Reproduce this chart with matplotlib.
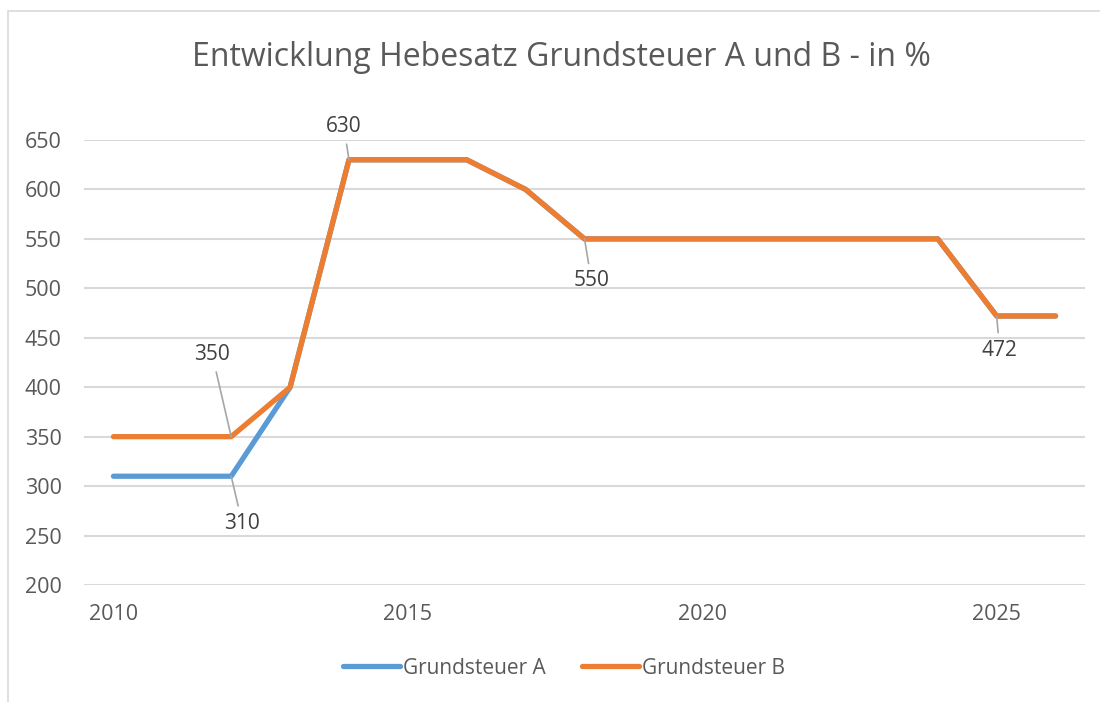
import matplotlib.pyplot as plt
from matplotlib.patches import Rectangle

plt.rcParams["font.family"] = ["Open Sans", "DejaVu Sans"]

# -----------------------------
# Data
# -----------------------------
years = list(range(2010, 2027))
steuer_a = [310, 310, 310, 400, 630, 630, 630, 600, 550, 550, 550, 550, 550, 550, 550, 472, 472]
steuer_b = [350, 350, 350, 400, 630, 630, 630, 600, 550, 550, 550, 550, 550, 550, 550, 472, 472]
y_ticks = [200, 250, 300, 350, 400, 450, 500, 550, 600, 650]
x_ticks = [2010, 2015, 2020, 2025]

# data labels: (series, year, offset in px)
labels = [
    ("B", 2012, (-19, 82)),
    ("A", 2012, (11, -47)),
    ("B", 2014, (-5, 33)),
    ("B", 2018, (7, -42)),
    ("B", 2025, (3, -34)),
]

col_a = "#5B9BD5"
col_b = "#ED7D31"
grey_txt = "#595959"

fig = plt.figure(figsize=(11, 7.02), dpi=100)
ax = fig.add_axes([84/1100, 1 - 585/702, 1001/1100, 445/702])

# chart frame like excel
fig.patches.append(Rectangle((8/1100, -0.05), 1.2, 1 - 11/702 + 0.05,
                             transform=fig.transFigure, fill=False,
                             edgecolor="#d9d9d9", lw=1.2))

ax.plot(years, steuer_a, color=col_a, lw=3.8, solid_capstyle="round",
        solid_joinstyle="round", label="Grundsteuer A", zorder=3)
ax.plot(years, steuer_b, color=col_b, lw=3.8, solid_capstyle="round",
        solid_joinstyle="round", label="Grundsteuer B", zorder=4)

series = {"A": steuer_a, "B": steuer_b}
for s, yr, off in labels:
    v = series[s][years.index(yr)]
    ax.annotate(str(v), xy=(yr, v), xytext=off, textcoords="offset pixels",
                ha="center", va="center", fontsize=15, color="#404040",
                arrowprops=dict(arrowstyle="-", color="#a6a6a6", lw=1.2,
                                shrinkA=3, shrinkB=0), zorder=5)

ax.set_xlim(2009.5, 2026.5)
ax.set_ylim(200, 650)
ax.set_yticks(y_ticks)
ax.set_xticks(x_ticks)
ax.set_xticklabels([str(x) for x in x_ticks])
ax.tick_params(axis="both", length=0, labelsize=15.5, labelcolor=grey_txt, pad=16)
ax.tick_params(axis="x", pad=14)
ax.grid(axis="y", color="#d9d9d9", lw=1.5)
ax.grid(axis="x", visible=False)
ax.set_axisbelow(True)
for sp in ax.spines.values():
    sp.set_visible(False)

fig.text(561/1100, 1 - 57/702, "Entwicklung Hebesatz Grundsteuer A und B - in %",
         ha="center", va="center", fontsize=23, color=grey_txt)

fig.legend(loc="center", bbox_to_anchor=(564/1100, 1 - 668/702), ncol=2,
           frameon=False, fontsize=15, labelcolor=grey_txt, handlelength=2.75,
           handletextpad=0.15, columnspacing=1.7)

fig.savefig("out.png", dpi=100)
